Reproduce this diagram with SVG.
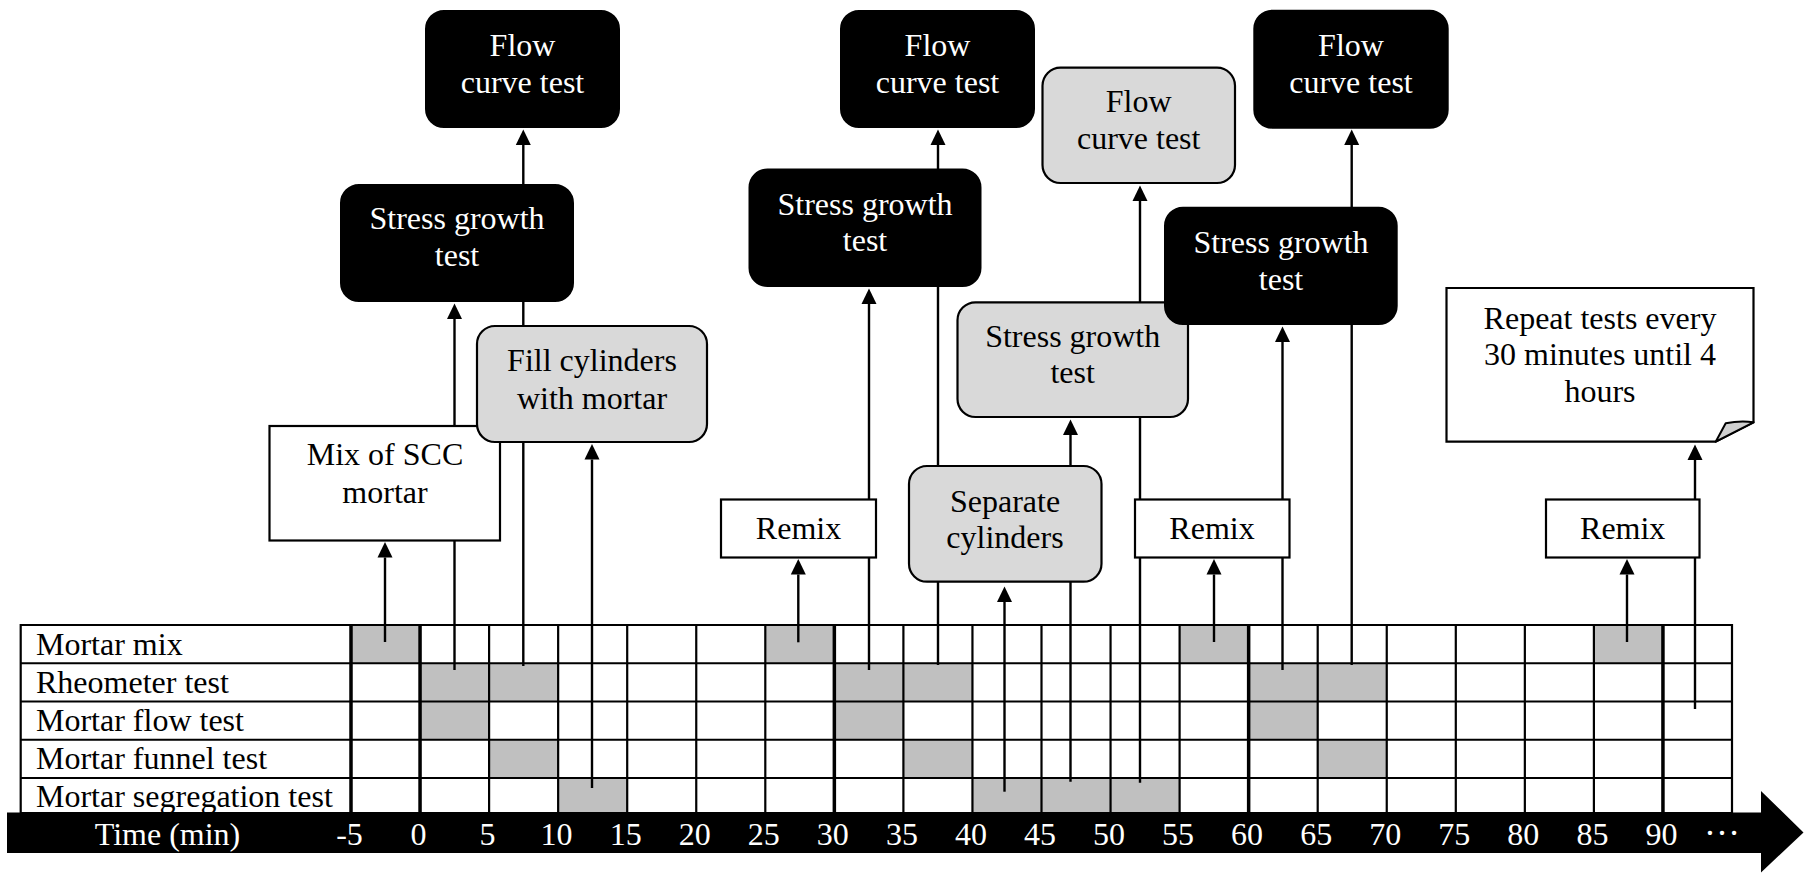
<svg xmlns="http://www.w3.org/2000/svg" width="1815" height="873" viewBox="0 0 1815 873">
<defs>
<marker id="ah" markerUnits="userSpaceOnUse" markerWidth="16" markerHeight="16" refX="0" refY="8" orient="auto"><path d="M0,0.5 L15.5,8 L0,15.5 z" fill="#000"/></marker>
<style>
text{font-family:"Liberation Serif","Times New Roman",serif;font-size:32px}
.c{text-anchor:middle}
.w{fill:#fff}
.cell{fill:#c0c0c0}
.g{stroke:#000;stroke-width:2.2;fill:none}
.gt{stroke:#000;stroke-width:3.5;fill:none}
.con{stroke:#000;stroke-width:2.4;fill:none;marker-end:url(#ah)}
.bk{fill:#000;stroke:#000;stroke-width:2}
.gr{fill:#d9d9d9;stroke:#000;stroke-width:2.2}
.wh{fill:#fff;stroke:#000;stroke-width:2.2}
</style>
</defs>
<rect width="1815" height="873" fill="#fff"/>
<g id="table">
<g id="cells">
<rect class="cell" x="351" y="625" width="69.05" height="38.25"/>
<rect class="cell" x="765.3" y="625" width="69.05" height="38.25"/>
<rect class="cell" x="1179.6" y="625" width="69.05" height="38.25"/>
<rect class="cell" x="1593.9" y="625" width="69.05" height="38.25"/>
<rect class="cell" x="420.05" y="663.25" width="138.1" height="38.25"/>
<rect class="cell" x="834.35" y="663.25" width="138.1" height="38.25"/>
<rect class="cell" x="1248.65" y="663.25" width="138.1" height="38.25"/>
<rect class="cell" x="420.05" y="701.5" width="69.05" height="38.25"/>
<rect class="cell" x="834.35" y="701.5" width="69.05" height="38.25"/>
<rect class="cell" x="1248.65" y="701.5" width="69.05" height="38.25"/>
<rect class="cell" x="489.1" y="739.75" width="69.05" height="38.25"/>
<rect class="cell" x="903.4" y="739.75" width="69.05" height="38.25"/>
<rect class="cell" x="1317.7" y="739.75" width="69.05" height="38.25"/>
<rect class="cell" x="558.15" y="778" width="69.05" height="38"/>
<rect class="cell" x="972.45" y="778" width="207.15" height="38"/>
</g>
<g id="grid">
<path class="g" d="M20.7,625 H1732 M20.7,663.25 H1732 M20.7,701.5 H1732 M20.7,739.75 H1732 M20.7,778 H1732 M20.7,813 H1732"/>
<path class="g" d="M20.7,624 V813 M1732,624 V813
M489.1,625 V813 M558.15,625 V813 M627.2,625 V813 M696.25,625 V813 M765.3,625 V813
M903.4,625 V813 M972.45,625 V813 M1041.5,625 V813 M1110.55,625 V813 M1179.6,625 V813
M1317.7,625 V813 M1386.75,625 V813 M1455.8,625 V813 M1524.85,625 V813 M1593.9,625 V813"/>
<path class="gt" d="M351,624 V813 M420.05,624 V813 M834.35,624 V813 M1248.65,624 V813 M1662.95,624 V813"/>
</g>
<g id="row-labels">
<text x="36" y="655">Mortar mix</text>
<text x="36" y="693">Rheometer test</text>
<text x="36" y="731">Mortar flow test</text>
<text x="36" y="769">Mortar funnel test</text>
<text x="36" y="807">Mortar segregation test</text>
</g>
</g>
<g id="time-axis">
<polygon points="7,812.5 1761,812.5 1761,791 1803.5,832.5 1761,872.5 1761,853 7,853" fill="#000"/>
<g class="w">
<text class="c" x="167.5" y="845">Time (min)</text>
<text class="c" x="349.5" y="845">-5</text>
<text class="c" x="418.5" y="845">0</text>
<text class="c" x="487.6" y="845">5</text>
<text class="c" x="556.6" y="845">10</text>
<text class="c" x="625.7" y="845">15</text>
<text class="c" x="694.7" y="845">20</text>
<text class="c" x="763.8" y="845">25</text>
<text class="c" x="832.8" y="845">30</text>
<text class="c" x="901.9" y="845">35</text>
<text class="c" x="970.9" y="845">40</text>
<text class="c" x="1040" y="845">45</text>
<text class="c" x="1109" y="845">50</text>
<text class="c" x="1178.1" y="845">55</text>
<text class="c" x="1247.1" y="845">60</text>
<text class="c" x="1316.2" y="845">65</text>
<text class="c" x="1385.2" y="845">70</text>
<text class="c" x="1454.3" y="845">75</text>
<text class="c" x="1523.3" y="845">80</text>
<text class="c" x="1592.4" y="845">85</text>
<text class="c" x="1661.4" y="845">90</text>
<text class="c" x="1722" y="835" style="font-size:36px">…</text>
</g>
</g>
<g id="connectors">
<path class="con" d="M385,642 V557.5"/>
<path class="con" d="M454.5,670 V319"/>
<path class="con" d="M523.3,666 V145"/>
<path class="con" d="M592,788 V459.5"/>
<path class="con" d="M798.3,642.3 V574.5"/>
<path class="con" d="M869,670 V304"/>
<path class="con" d="M938,665 V145"/>
<path class="con" d="M1004.5,791.7 V602"/>
<path class="con" d="M1070.5,781.7 V435"/>
<path class="con" d="M1140,782.7 V201"/>
<path class="con" d="M1214,642 V574.5"/>
<path class="con" d="M1282.5,670 V342"/>
<path class="con" d="M1351.7,665 V145"/>
<path class="con" d="M1627,642 V574.5"/>
<path class="con" d="M1695,709 V460"/>
</g>
<g id="node-mix">
<rect class="wh" x="269.5" y="426" width="230.5" height="114.5"/>
<text class="c" x="385" y="465">Mix of SCC</text>
<text class="c" x="385" y="503">mortar</text>
</g>
<g id="node-fill">
<rect class="gr" x="477" y="326" width="230" height="116" rx="18"/>
<text class="c" x="592" y="371">Fill cylinders</text>
<text class="c" x="592" y="409">with mortar</text>
</g>
<g id="node-stress1">
<rect class="bk" x="341" y="185" width="232" height="116" rx="18"/>
<text class="c w" x="457" y="229">Stress growth</text>
<text class="c w" x="457" y="266">test</text>
</g>
<g id="node-flow1">
<rect class="bk" x="426" y="11" width="193" height="116" rx="18"/>
<text class="c w" x="522.5" y="56">Flow</text>
<text class="c w" x="522.5" y="93">curve test</text>
</g>
<g id="node-remix1">
<rect class="wh" x="721" y="499.5" width="155" height="58"/>
<text class="c" x="798.5" y="539">Remix</text>
</g>
<g id="node-stress2">
<rect class="bk" x="749.5" y="169.5" width="231" height="116.5" rx="18"/>
<text class="c w" x="865" y="214.5">Stress growth</text>
<text class="c w" x="865" y="251">test</text>
</g>
<g id="node-flow2">
<rect class="bk" x="841" y="11" width="193" height="116" rx="18"/>
<text class="c w" x="937.5" y="56">Flow</text>
<text class="c w" x="937.5" y="93">curve test</text>
</g>
<g id="node-separate">
<rect class="gr" x="909" y="466" width="192.5" height="115.7" rx="18"/>
<text class="c" x="1005" y="512">Separate</text>
<text class="c" x="1005" y="548">cylinders</text>
</g>
<g id="node-stress3">
<rect class="gr" x="957.5" y="302.3" width="230.5" height="114.7" rx="18"/>
<text class="c" x="1072.7" y="346.5">Stress growth</text>
<text class="c" x="1072.7" y="383">test</text>
</g>
<g id="node-flow3">
<rect class="gr" x="1042.5" y="67.7" width="192.5" height="115.3" rx="18"/>
<text class="c" x="1138.7" y="112">Flow</text>
<text class="c" x="1138.7" y="149">curve test</text>
</g>
<g id="node-remix2">
<rect class="wh" x="1135" y="499.5" width="154.5" height="58"/>
<text class="c" x="1212" y="539">Remix</text>
</g>
<g id="node-stress4">
<rect class="bk" x="1165" y="207.7" width="231.7" height="116.3" rx="18"/>
<text class="c w" x="1281" y="253.3">Stress growth</text>
<text class="c w" x="1281" y="290">test</text>
</g>
<g id="node-flow4">
<rect class="bk" x="1254.3" y="10.7" width="193.4" height="117" rx="18"/>
<text class="c w" x="1351" y="56">Flow</text>
<text class="c w" x="1351" y="93.3">curve test</text>
</g>
<g id="node-remix3">
<rect class="wh" x="1546" y="499.5" width="153.5" height="58"/>
<text class="c" x="1622.7" y="539">Remix</text>
</g>
<g id="node-note">
<path class="wh" d="M1446.5,288 H1753.5 V422.3 L1715.7,441.7 H1446.5 Z"/>
<path d="M1715.7,441.7 L1725.7,423.3 Q1740,420.5 1753.5,422.3 Z" fill="#d0d0d0" stroke="#000" stroke-width="2" stroke-linejoin="round"/>
<text class="c" x="1600" y="328.5">Repeat tests every</text>
<text class="c" x="1600" y="365">30 minutes until 4</text>
<text class="c" x="1600" y="401.7">hours</text>
</g>
</svg>
